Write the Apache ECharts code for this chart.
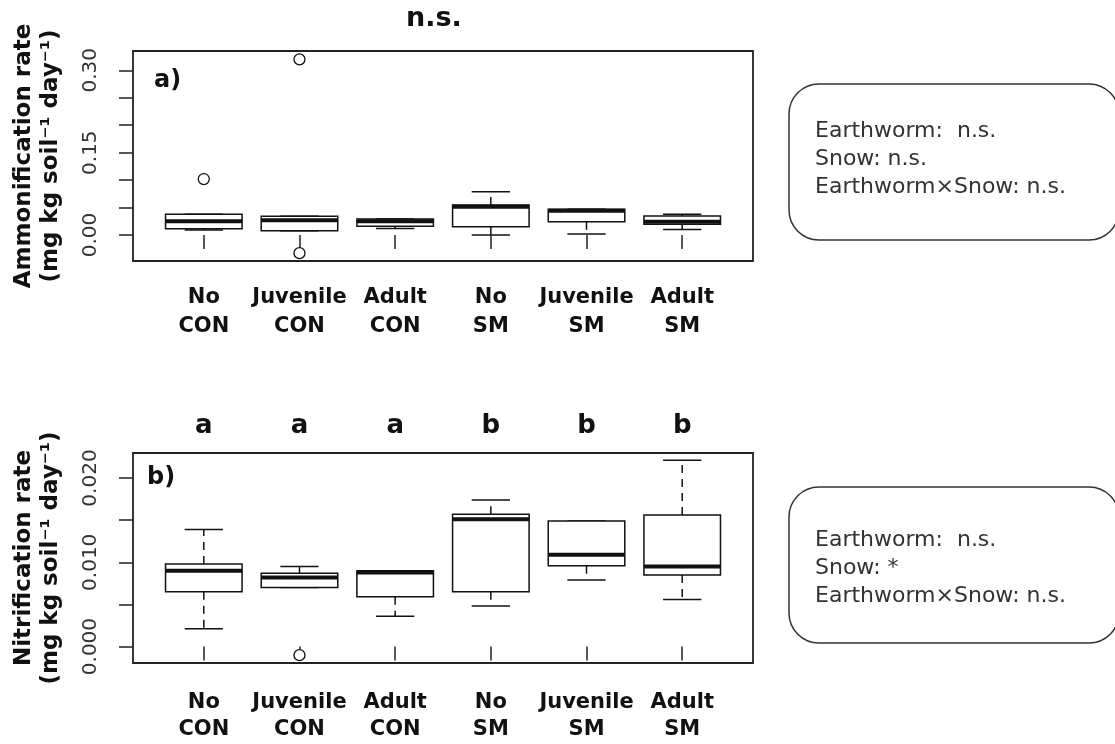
<!DOCTYPE html>
<html>
<head>
<meta charset="utf-8">
<script src="https://cdn.jsdelivr.net/npm/echarts@6/dist/echarts.min.js"></script>
<style>html,body{margin:0;padding:0;background:#fff}#c{width:1115px;height:744px}</style>
</head>
<body>
<div id="c"></div>
<script>
// ---------- data ----------
const categories = ['No\nCON', 'Juvenile\nCON', 'Adult\nCON', 'No\nSM', 'Juvenile\nSM', 'Adult\nSM'];
// [lower whisker, Q1, median, Q3, upper whisker]
const ammonStats = [
  [0.009, 0.0115, 0.025, 0.038, 0.038],
  [0.008, 0.008, 0.027, 0.034, 0.034],
  [0.012, 0.016, 0.025, 0.029, 0.029],
  [0.000, 0.015, 0.0515, 0.0546, 0.079],
  [0.002, 0.024, 0.044, 0.047, 0.047],
  [0.010, 0.0195, 0.024, 0.0346, 0.038]
];
const ammonOutliers = [[1, 0.102], [2, 0.320], [2, -0.033]];
const nitriStats = [
  [0.0021, 0.0065, 0.0090, 0.0098, 0.0139],
  [0.0070, 0.0070, 0.0082, 0.0087, 0.0095],
  [0.0036, 0.0059, 0.0088, 0.0090, 0.0090],
  [0.0048, 0.0065, 0.0151, 0.0157, 0.0174],
  [0.0079, 0.0096, 0.0109, 0.0149, 0.0149],
  [0.0056, 0.0085, 0.0095, 0.0156, 0.0221]
];
const nitriOutliers = [[2, -0.00102]];
const nitriLetters = ['a', 'a', 'a', 'b', 'b', 'b'];
const ammonTicks = [0, 0.05, 0.10, 0.15, 0.20, 0.25, 0.30];
const ammonTickLabels = [0, 0.15, 0.30];
const nitriTicks = [0, 0.005, 0.010, 0.015, 0.020];
const nitriTickLabels = [0, 0.010, 0.020];
const statsTextA = 'Earthworm:  n.s.\nSnow: n.s.\nEarthworm×Snow: n.s.';
const statsTextB = 'Earthworm:  n.s.\nSnow: *\nEarthworm×Snow: n.s.';

// ---------- helpers ----------
const FONT = 'DejaVu Sans';
const catPos = categories.map((c, i) => i + 1);
const BOX_HALF = 0.4, CAP_HALF = 0.2;

function boxSeries(stats, gi) {
  return {
    type: 'custom',
    xAxisIndex: gi, yAxisIndex: gi,
    data: stats.map((s, i) => [i + 1].concat(s)),
    encode: { x: 0, y: [1, 2, 3, 4, 5] },
    renderItem: function (params, api) {
      const x = api.value(0);
      const lo = api.value(1), q1 = api.value(2), med = api.value(3), q3 = api.value(4), hi = api.value(5);
      const tl = api.coord([x - BOX_HALF, q3]);
      const br = api.coord([x + BOX_HALF, q1]);
      const mL = api.coord([x - BOX_HALF, med]);
      const mR = api.coord([x + BOX_HALF, med]);
      const cx = api.coord([x, 0])[0];
      const cL = api.coord([x - CAP_HALF, 0])[0];
      const cR = api.coord([x + CAP_HALF, 0])[0];
      const yLo = api.coord([x, lo])[1], yHi = api.coord([x, hi])[1];
      const stroke = '#111';
      return {
        type: 'group',
        children: [
          { type: 'line', shape: { x1: cx, y1: tl[1], x2: cx, y2: yHi }, style: { stroke: stroke, lineWidth: 1.5, lineDash: [8, 6] } },
          { type: 'line', shape: { x1: cx, y1: br[1], x2: cx, y2: yLo }, style: { stroke: stroke, lineWidth: 1.5, lineDash: [8, 6] } },
          { type: 'line', shape: { x1: cL, y1: yHi, x2: cR, y2: yHi }, style: { stroke: stroke, lineWidth: 1.5 } },
          { type: 'line', shape: { x1: cL, y1: yLo, x2: cR, y2: yLo }, style: { stroke: stroke, lineWidth: 1.5 } },
          { type: 'rect', shape: { x: tl[0], y: tl[1], width: br[0] - tl[0], height: br[1] - tl[1] }, style: { fill: '#fff', stroke: stroke, lineWidth: 1.5 } },
          { type: 'line', shape: { x1: mL[0], y1: mL[1], x2: mR[0], y2: mR[1] }, style: { stroke: stroke, lineWidth: 4 } }
        ]
      };
    }
  };
}
function outlierSeries(data, gi) {
  return {
    type: 'scatter', xAxisIndex: gi, yAxisIndex: gi, data: data,
    symbol: 'circle', symbolSize: 11,
    itemStyle: { color: '#fff', borderColor: '#111', borderWidth: 1.3, opacity: 1 },
    clip: false
  };
}
function xAxisBase(gi, margin, lh) {
  return {
    gridIndex: gi, type: 'value', min: 0.26, max: 6.74,
    splitLine: { show: false }, axisLine: { show: false },
    axisTick: { show: true, customValues: catPos, length: 14, lineStyle: { color: '#222', width: 1.5 } },
    axisLabel: {
      customValues: catPos, formatter: v => categories[Math.round(v) - 1] || '',
      margin: margin, fontFamily: FONT, fontWeight: 'bold', fontSize: 21, lineHeight: lh, color: '#111'
    }
  };
}
function yAxisBase(gi, min, max, ticks, labels, dec, name) {
  return {
    gridIndex: gi, type: 'value', min: min, max: max,
    splitLine: { show: false }, axisLine: { show: false },
    axisTick: { show: true, customValues: ticks, length: 14, lineStyle: { color: '#222', width: 1.5 } },
    axisLabel: {
      customValues: labels, rotate: 90, formatter: v => v.toFixed(dec),
      margin: 32, fontFamily: FONT, fontSize: 20, color: '#333'
    },
    name: name, nameLocation: 'middle', nameRotate: 90, nameGap: 68,
    nameTextStyle: { fontFamily: FONT, fontWeight: 'bold', fontSize: 23, lineHeight: 27, color: '#111' }
  };
}

const chart = echarts.init(document.getElementById('c'), null, { renderer: 'canvas' });
const option = {
  animation: false,
  backgroundColor: '#fff',
  grid: [
    { left: 133, top: 51, width: 620, height: 210, show: true, borderColor: '#222', borderWidth: 1.8, backgroundColor: 'transparent' },
    { left: 133, top: 453, width: 620, height: 210, show: true, borderColor: '#222', borderWidth: 1.8, backgroundColor: 'transparent' }
  ],
  xAxis: [
    xAxisBase(0, 22, 29),
    xAxisBase(1, 26, 27),
    {
      gridIndex: 1, type: 'value', position: 'top', min: 0.26, max: 6.74,
      splitLine: { show: false }, axisLine: { show: false }, axisTick: { show: false },
      axisLabel: {
        customValues: catPos, formatter: v => nitriLetters[Math.round(v) - 1] || '',
        margin: 14, fontFamily: FONT, fontWeight: 'bold', fontSize: 26, color: '#111'
      }
    }
  ],
  yAxis: [
    yAxisBase(0, -0.0473, 0.3352, ammonTicks, ammonTickLabels, 2, 'Ammonification rate\n(mg kg soil⁻¹ day⁻¹)'),
    yAxisBase(1, -0.00195, 0.02297, nitriTicks, nitriTickLabels, 3, 'Nitrification rate\n(mg kg soil⁻¹ day⁻¹)')
  ],
  series: [
    boxSeries(ammonStats, 0),
    outlierSeries(ammonOutliers, 0),
    boxSeries(nitriStats, 1),
    outlierSeries(nitriOutliers, 1)
  ],
  graphic: [
    { type: 'text', left: 406, top: 5, style: { text: 'n.s.', font: 'bold 27px "DejaVu Sans"', fill: '#111' } },
    { type: 'text', left: 154, top: 69, style: { text: 'a)', font: 'bold 24px "DejaVu Sans"', fill: '#111' } },
    { type: 'text', left: 147, top: 466, style: { text: 'b)', font: 'bold 24px "DejaVu Sans"', fill: '#111' } },
    { type: 'rect', shape: { x: 789, y: 84, width: 330, height: 156, r: 30 }, style: { fill: '#fff', stroke: '#333', lineWidth: 1.5 } },
    { type: 'text', left: 815, top: 117, style: { text: statsTextA, font: '22px "DejaVu Sans"', lineHeight: 28.3, fill: '#333' } },
    { type: 'rect', shape: { x: 789, y: 487, width: 330, height: 156, r: 30 }, style: { fill: '#fff', stroke: '#333', lineWidth: 1.5 } },
    { type: 'text', left: 815, top: 526, style: { text: statsTextB, font: '22px "DejaVu Sans"', lineHeight: 28.3, fill: '#333' } }
  ]
};
chart.setOption(option);
</script>
</body>
</html>
